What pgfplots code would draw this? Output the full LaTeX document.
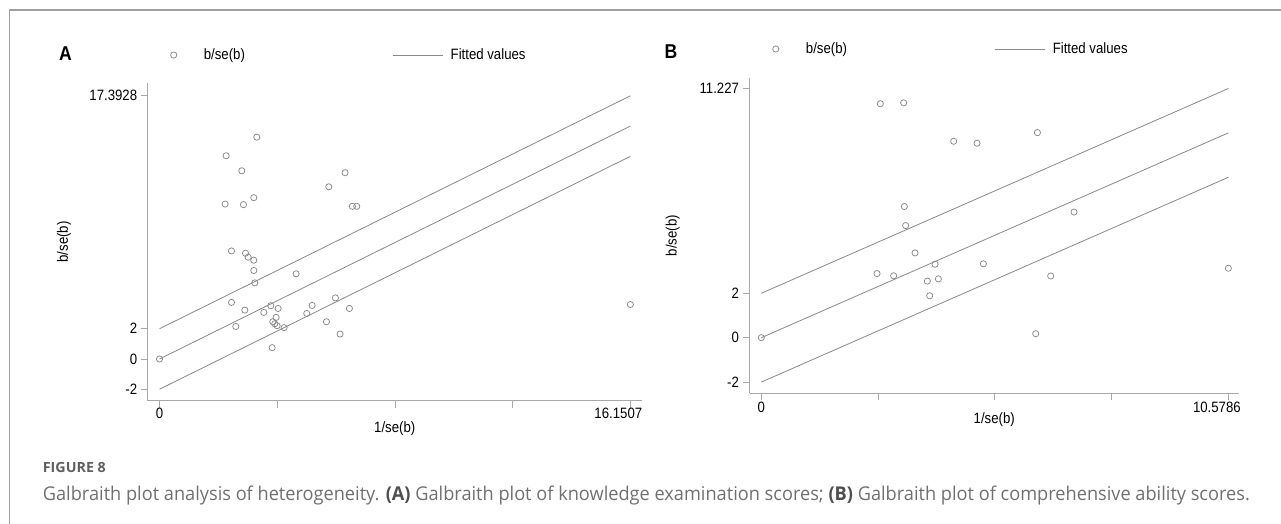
\documentclass[border=0pt]{standalone}
\usepackage{fontspec}
\setmainfont[FakeStretch=0.88]{Liberation Sans}
\newfontfamily\capfont{Open Sans}
\usepackage{graphicx}
\usepackage{pgfplots}
\usepackage{pgfplotstable}
\pgfplotsset{compat=1.18}

\definecolor{axisgray}{HTML}{A8A8A8}
\definecolor{datagray}{HTML}{888888}
\definecolor{capgray}{HTML}{707070}
\definecolor{framegray}{HTML}{A0A0A0}

% panel A: 1/se(b), b/se(b)
\pgfplotstableread{
x y
0 0
3.337 14.66
2.286 13.43
2.823 12.44
6.366 12.31
5.806 11.38
3.234 10.66
2.251 10.24
2.880 10.20
6.617 10.09
6.766 10.09
2.469 7.14
2.949 6.99
3.040 6.73
3.234 6.53
3.234 5.85
4.686 5.63
3.269 5.03
2.469 3.74
6.034 4.04
2.926 3.23
3.817 3.52
4.069 3.34
3.577 3.08
5.234 3.54
5.051 3.01
6.514 3.34
4.000 2.75
3.886 2.46
3.954 2.33
4.034 2.20
4.274 2.07
2.617 2.15
5.726 2.46
6.194 1.65
3.863 0.75
16.1507 3.60
}\ptsA

% panel B
\pgfplotstableread{
x y
0 0
2.696 10.54
3.225 10.58
4.358 8.85
4.887 8.76
6.254 9.24
3.240 5.91
3.270 5.05
3.482 3.82
3.935 3.31
5.030 3.33
2.621 2.89
2.998 2.79
3.761 2.55
4.011 2.65
3.814 1.89
6.216 0.18
7.083 5.66
6.555 2.78
10.5786 3.13
}\ptsB

\pgfplotsset{galb/.style={
  scale only axis,
  axis x line*=bottom, axis y line*=left,
  axis line style={-, axisgray, line width=1pt},
  tick style={axisgray, line width=0.8pt},
  tick align=outside, major tick length=7pt,
  font=\fontsize{15}{17}\selectfont,
  yticklabel style={anchor=east},
  legend columns=2,
  legend style={draw=none, fill=none, anchor=west, inner sep=0pt,
    nodes={inner sep=0pt, anchor=west},
    /tikz/column 1/.style={column sep=27pt},
    /tikz/column 2/.style={column sep=148pt},
    /tikz/column 3/.style={column sep=7pt}},
  scat/.style={only marks, mark=o, mark size=3.1pt,
    mark options={datagray, line width=0.75pt},
    legend image code/.code={\draw[##1] plot coordinates {(0pt,0pt)};}},
  fit/.style={datagray, line width=0.8pt, no marks,
    legend image code/.code={\draw[##1] (0pt,0pt) -- (50pt,0pt);}},
}}

\newlength\tmpw
\newcommand\fitw[2]{\settowidth\tmpw{#2}\pgfmathsetmacro\fx{#1/\tmpw}\scalebox{\fx}[1]{#2}}

\begin{document}
\begin{tikzpicture}[x=1pt,y=1pt]
\path[use as bounding box] (0,0) rectangle (1281,524);
\draw[framegray, line width=1.5pt] (9.3,0) -- (9.3,514) -- (1281,514);

\node[font=\fontsize{20}{22}\selectfont\bfseries] at (65.5,470.5) {A};
\node[font=\fontsize{20}{22}\selectfont\bfseries] at (671,472) {B};

\begin{axis}[galb, at={(147.7pt,123pt)}, anchor=south west,
  width=494pt, height=318pt,
  xmin=-0.405, xmax=16.54, ymin=-2.776, ymax=18.24,
  xtick={0,4.037675,8.07535,12.113025,16.1507},
  xticklabels={0,,,,\hspace*{-24pt}16.1507},
  xticklabel style={anchor=north, yshift=4pt},
  ytick={-2,0,2,17.3928}, yticklabels={-2,0,2,17.3928},
  xlabel={1/se(b)}, ylabel={b/se(b)},
  xlabel style={at={(axis description cs:0.5,-0.088)}, anchor=center},
  ylabel style={at={(axis description cs:-0.1694,0.5)}, anchor=center},
  legend style={at={(axis description cs:0.046,1.088)}}]
\addplot[scat] table {\ptsA};
\addlegendentry{b/se(b)}
\addplot[fit] coordinates {(0,0) (16.1507,15.3928)};
\addlegendentry{Fitted values}
\addplot[fit, forget plot] coordinates {(0,2) (16.1507,17.3928)};
\addplot[fit, forget plot] coordinates {(0,-2) (16.1507,13.3928)};
\end{axis}

\begin{axis}[galb, at={(749.5pt,130.7pt)}, anchor=south west,
  width=489.5pt, height=315.3pt,
  xmin=-0.267, xmax=10.82, ymin=-2.505, ymax=11.70,
  xtick={0,2.64465,5.2893,7.93395,10.5786},
  xticklabels={0,,,,\hspace*{-23pt}10.5786},
  xticklabel style={anchor=north, yshift=2pt},
  ytick={-2,0,2,11.227}, yticklabels={-2,0,2,11.227},
  xlabel={1/se(b)}, ylabel={b/se(b)},
  xlabel style={at={(axis description cs:0.5,-0.0847)}, anchor=center},
  ylabel style={at={(axis description cs:-0.157,0.5)}, anchor=center},
  legend style={at={(axis description cs:0.047,1.092)}}]
\addplot[scat] table {\ptsB};
\addlegendentry{b/se(b)}
\addplot[fit] coordinates {(0,0) (10.5786,9.227)};
\addlegendentry{Fitted values}
\addplot[fit, forget plot] coordinates {(0,2) (10.5786,11.227)};
\addplot[fit, forget plot] coordinates {(0,-2) (10.5786,7.227)};
\end{axis}

\node[anchor=base west, inner sep=0pt, text=capgray!85!black] at (42.7,51.3)
  {\fitw{63}{\capfont\fontsize{14}{16}\selectfont\bfseries FIGURE 8}};
\node[anchor=base west, inner sep=0pt, text=capgray] at (42.7,23)
  {\fitw{1207}{\capfont\fontsize{19}{22}\selectfont Galbraith plot analysis of heterogeneity. {\bfseries\color{capgray!70!black}(A)} Galbraith plot of knowledge examination scores; {\bfseries\color{capgray!70!black}(B)} Galbraith plot of comprehensive ability scores.}};
\end{tikzpicture}
\end{document}
